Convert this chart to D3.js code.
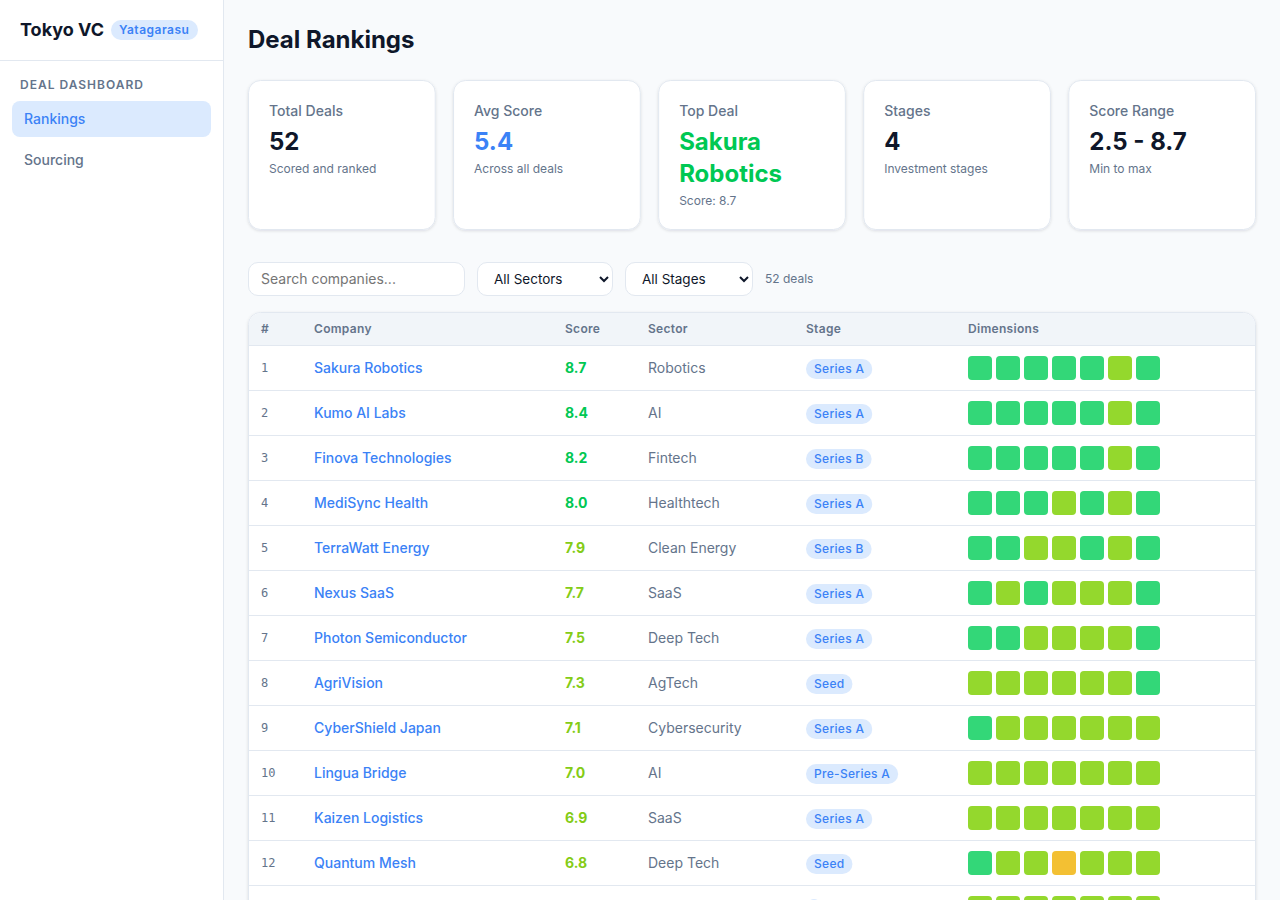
<!DOCTYPE html>
<html>
<head>
<meta charset="utf-8">
<script src="https://cdn.jsdelivr.net/npm/d3@7"></script>
<style>
  html, body { margin: 0; padding: 0; background: #f8fafc; overflow: hidden; }
  svg { display: block; font-family: Inter, sans-serif; }
  select { position: absolute; top: 262px; height: 34px; box-sizing: border-box; border: 1px solid #e2e8f0;
    border-radius: 10px; background: #fff; font: 13.5px Inter, sans-serif; color: #0f172a; padding: 0 12px; }
</style>
</head>
<body>
<div id="chart"></div>
<script>
// Values
const companies = ["Sakura Robotics", "Kumo AI Labs", "Finova Technologies", "MediSync Health", "TerraWatt Energy", "Nexus SaaS", "Photon Semiconductor", "AgriVision", "CyberShield Japan", "Lingua Bridge", "Kaizen Logistics", "Quantum Mesh", ""];
const scores = [8.7, 8.4, 8.2, 8.0, 7.9, 7.7, 7.5, 7.3, 7.1, 7.0, 6.9, 6.8, null];
const sectors = ["Robotics", "AI", "Fintech", "Healthtech", "Clean Energy", "SaaS", "Deep Tech", "AgTech", "Cybersecurity", "AI", "SaaS", "Deep Tech", ""];
const stages = ["Series A", "Series A", "Series B", "Series A", "Series B", "Series A", "Series A", "Seed", "Series A", "Pre-Series A", "Series A", "Seed", "Seed"];
// seven dimension scores per deal (only the colour band can be read)
const dimensions = [
  [9, 9, 9, 9, 9, 7, 9],
  [9, 9, 9, 9, 9, 7, 9],
  [9, 9, 9, 9, 9, 7, 9],
  [9, 9, 9, 7, 9, 7, 9],
  [9, 9, 7, 7, 9, 7, 9],
  [9, 7, 9, 7, 7, 7, 9],
  [9, 9, 7, 7, 7, 7, 9],
  [7, 7, 7, 7, 7, 7, 9],
  [9, 7, 7, 7, 7, 7, 7],
  [7, 7, 7, 7, 7, 7, 7],
  [7, 7, 7, 7, 7, 7, 7],
  [9, 7, 7, 5, 7, 7, 7],
  [7, 7, 7, 7, 7, 7, 7]
];
const dimensionIndex = [0, 1, 2, 3, 4, 5, 6];
const columns = ["#", "Company", "Score", "Sector", "Stage", "Dimensions"];
const columnStarts = [261, 314, 565, 648, 806, 968];
const navItems = ["Rankings", "Sourcing"];
const kpiTitles = ["Total Deals", "Avg Score", "Top Deal", "Stages", "Score Range"];
const kpiValues = [["52"], ["5.4"], ["Sakura", "Robotics"], ["4"], ["2.5 - 8.7"]];
const kpiNotes = ["Scored and ranked", "Across all deals", "Score: 8.7", "Investment stages", "Min to max"];
const kpiColors = ["#0f172a", "#3b82f6", "#00c853", "#0f172a", "#0f172a"];

const dimColor = d3.scaleThreshold().domain([4, 6, 8]).range(["#f87171", "#f3c033", "#94d82d", "#33d778"]);
const scoreColor = d3.scaleThreshold().domain([6, 8]).range(["#f59e0b", "#84cc16", "#00c853"]);

const svg = d3.select("#chart").append("svg").attr("width", 1280).attr("height", 900);

function label(g, x, y, text, size, color, weight, spacing) {
  return g.append("text").attr("x", x).attr("y", y).attr("font-size", size).attr("fill", color)
    .attr("font-weight", weight || 400).attr("letter-spacing", spacing || 0).text(text);
}

// Sidebar
svg.append("rect").attr("width", 224).attr("height", 900).attr("fill", "#fff");
svg.append("line").attr("x1", 223.5).attr("x2", 223.5).attr("y1", 0).attr("y2", 900).attr("stroke", "#e2e8f0");
svg.append("line").attr("x1", 0).attr("x2", 223).attr("y1", 60.5).attr("y2", 60.5).attr("stroke", "#e2e8f0");
label(svg, 20, 35.5, "Tokyo VC", 18, "#0f172a", 700);
svg.append("rect").attr("x", 111).attr("y", 20).attr("width", 87).attr("height", 20).attr("rx", 10).attr("fill", "#dbeafe");
label(svg, 119, 34, "Yatagarasu", 12, "#3b82f6", 600, 0.5);
label(svg, 20, 89, "DEAL DASHBOARD", 12, "#64748b", 600, 1);

const navY = d3.scaleBand().domain(navItems).range([99, 179]).paddingInner(0.05);
svg.append("rect").attr("x", 12).attr("y", 101).attr("width", 199).attr("height", 36).attr("rx", 8).attr("fill", "#dbeafe");
svg.selectAll(".nav").data(navItems).join("text").attr("class", "nav")
  .attr("x", 24).attr("y", d => navY(d) + 25).attr("font-size", 14).attr("font-weight", 500)
  .attr("fill", (d, i) => i === 0 ? "#3b82f6" : "#64748b").text(d => d);

// Title
label(svg, 248, 48, "Deal Rankings", 24, "#0f172a", 700);

// KPI cards
const kpiX = d3.scaleBand().domain(d3.range(kpiTitles.length)).range([248, 1256]).paddingInner(16 / 189);
const shadow = svg.append("defs").append("filter").attr("id", "card").attr("x", "-5%").attr("y", "-5%").attr("width", "110%").attr("height", "115%");
shadow.append("feDropShadow").attr("dx", 0).attr("dy", 1).attr("stdDeviation", 1.5).attr("flood-color", "#0f172a").attr("flood-opacity", 0.12);
kpiTitles.forEach((t, i) => {
  const g = svg.append("g").attr("transform", `translate(${kpiX(i)},80)`);
  g.append("rect").attr("x", .5).attr("y", .5).attr("width", kpiX.bandwidth() - 1).attr("height", 149).attr("rx", 12)
    .attr("fill", "#fff").attr("stroke", "#e2e8f0").attr("filter", "url(#card)");
  label(g, 21, 36, t, 14, "#64748b", 500);
  kpiValues[i].forEach((v, j) => label(g, 21, 70 + j * 32, v, 24, kpiColors[i], 700));
  label(g, 21, 93 + (kpiValues[i].length - 1) * 32, kpiNotes[i], 12, "#64748b");
});

// Filters
svg.append("rect").attr("x", 248.5).attr("y", 262.5).attr("width", 216).attr("height", 33).attr("rx", 9.5).attr("fill", "#fff").attr("stroke", "#e2e8f0");
label(svg, 261, 284, "Search companies...", 14, "#757575");
d3.select("body").selectAll("select").data([["All Sectors", 477, 136], ["All Stages", 625, 128]]).join("select")
  .style("left", d => d[1] + "px").style("width", d => d[2] + "px")
  .append("option").text(d => d[0]);
label(svg, 765, 283, "52 deals", 12, "#64748b");

// Table
const rowY = d3.scaleBand().domain(d3.range(companies.length)).range([346, 346 + 45 * companies.length]);
const table = svg.append("g");
table.append("rect").attr("x", 248.5).attr("y", 312.5).attr("width", 1007).attr("height", 700).attr("rx", 12)
  .attr("fill", "#fff").attr("stroke", "#e2e8f0").attr("filter", "url(#card)");
table.append("path").attr("d", "M249 345V325a12 12 0 0 1 12-12H1243a12 12 0 0 1 12 12V345Z").attr("fill", "#f1f5f9");
table.append("line").attr("x1", 249).attr("x2", 1255).attr("y1", 345.5).attr("y2", 345.5).attr("stroke", "#e2e8f0");
table.selectAll(".head").data(columns).join("text").attr("class", "head")
  .attr("x", (d, i) => columnStarts[i]).attr("y", 333).attr("font-size", 12).attr("font-weight", 600)
  .attr("letter-spacing", 0.3).attr("fill", "#64748b").text(d => d);

const cellX = d3.scaleBand().domain(dimensionIndex).range([968, 968 + 28 * 7 - 4]).paddingInner(4 / 28);
const rows = table.selectAll(".row").data(companies).join("g").attr("class", "row")
  .attr("transform", (d, i) => `translate(0,${rowY(i)})`);
rows.append("line").attr("x1", 249).attr("x2", 1255).attr("y1", 44.5).attr("y2", 44.5).attr("stroke", "#e2e8f0");
rows.append("text").attr("x", columnStarts[0]).attr("y", 26).attr("font-family", "'DejaVu Sans Mono', monospace")
  .attr("font-size", 12).attr("fill", "#64748b").text((d, i) => i + 1);
rows.append("text").attr("x", columnStarts[1]).attr("y", 27).attr("font-size", 14).attr("font-weight", 500)
  .attr("fill", "#3b82f6").text(d => d);
rows.append("text").attr("x", columnStarts[2]).attr("y", 27).attr("font-size", 14).attr("font-weight", 700)
  .attr("fill", (d, i) => scores[i] === null ? "none" : scoreColor(scores[i]))
  .text((d, i) => scores[i] === null ? "" : scores[i].toFixed(1));
rows.append("text").attr("x", columnStarts[3]).attr("y", 27).attr("font-size", 14)
  .attr("fill", "#64748b").text((d, i) => sectors[i]);
const stageGroups = rows.append("g");
const stageText = stageGroups.append("text").attr("x", columnStarts[4] + 8).attr("y", 27).attr("font-size", 12)
  .attr("font-weight", 500).attr("letter-spacing", 0.3).attr("fill", "#3b82f6").text((d, i) => sectors[i] || i < 12 ? stages[i] : "");
stageGroups.insert("rect", "text").attr("x", columnStarts[4]).attr("y", 13).attr("height", 20).attr("rx", 10)
  .attr("width", function () { return this.parentNode.querySelector("text").getComputedTextLength() + 16; })
  .attr("fill", "#dbeafe");
rows.selectAll(".cell").data((d, i) => dimensions[i]).join("rect").attr("class", "cell")
  .attr("x", (d, i) => cellX(i)).attr("y", 10).attr("width", cellX.bandwidth()).attr("height", 24).attr("rx", 4)
  .attr("fill", d => dimColor(d));
</script>
</body>
</html>
